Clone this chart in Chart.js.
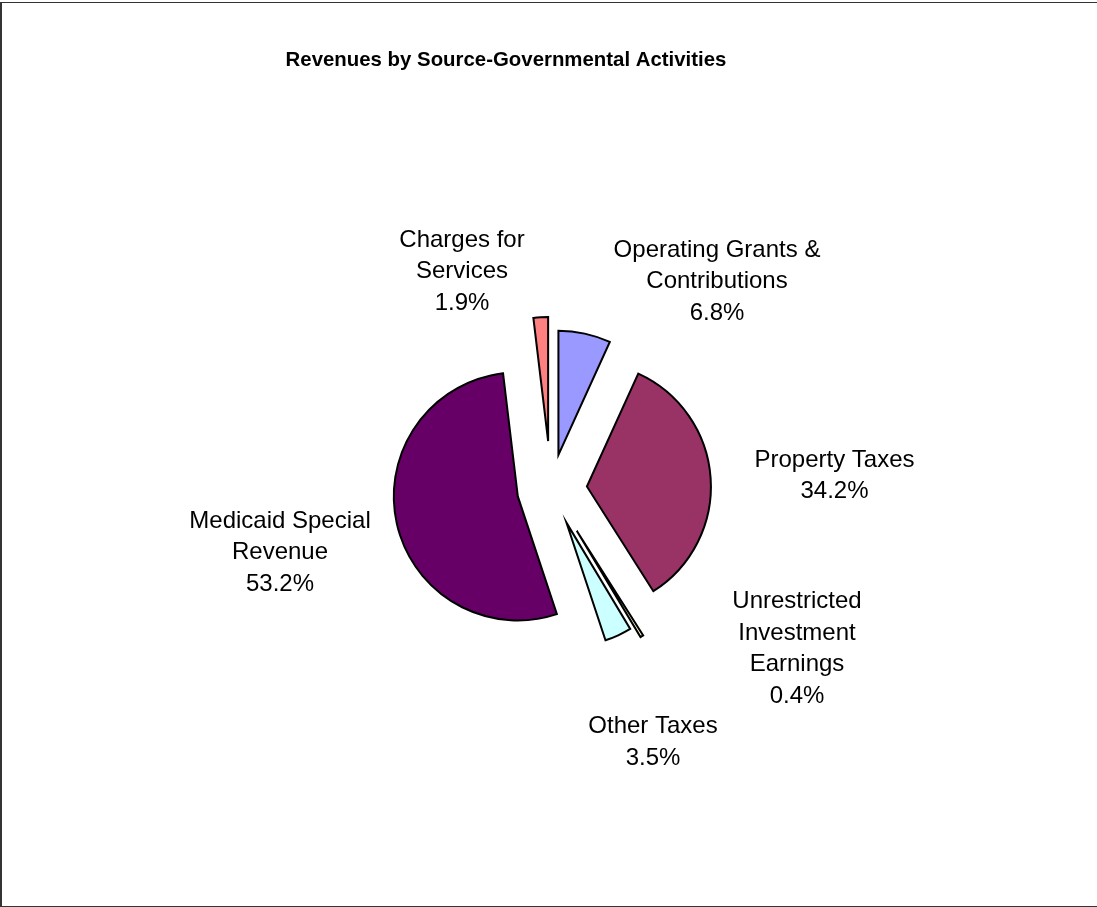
<!DOCTYPE html>
<html>
<head>
<meta charset="utf-8">
<script src="https://cdn.jsdelivr.net/npm/chart.js@4/dist/chart.umd.min.js"></script>
<style>
html,body{margin:0;padding:0;background:#fff;}
#wrap{position:relative;width:1097px;height:907px;}
canvas{display:block;}
</style>
</head>
<body>
<div id="wrap"><canvas id="c" width="1097" height="907"></canvas></div>
<script>
// ---- data ----
const chartTitle = 'Revenues by Source-Governmental Activities';
const categories = [
  ['Operating Grants &', 'Contributions'],
  ['Property Taxes'],
  ['Unrestricted', 'Investment', 'Earnings'],
  ['Other Taxes'],
  ['Medicaid Special', 'Revenue'],
  ['Charges for', 'Services']
];
const percentValues = [6.8, 34.2, 0.4, 3.5, 53.2, 1.9];
const sliceColors = ['#9999FF', '#993366', '#FFFFCC', '#CCFFFF', '#660066', '#FF8080'];

// ---- layout / style (not data) ----
const PIE_RADIUS = 124;
const explodePx = [35, 36, 49, 37, 34, 48];
const labelPlacement = [[166, -232.5], [283.5, -22.3], [246, 119.3], [102, 244.3], [-271, 38.7], [-89, -242.3]];
const LABEL_FONT = '24px "Liberation Sans", Arial, sans-serif';
const LABEL_LH = 31.5;

const framePlugin = {
  id: 'frame',
  beforeDraw(chart) {
    const ctx = chart.ctx;
    ctx.save();
    ctx.fillStyle = '#ffffff';
    ctx.fillRect(0, 0, chart.width, chart.height);
    ctx.fillStyle = '#333333';
    ctx.fillRect(0, 2, 2, chart.height - 2);
    ctx.fillRect(0, 2, chart.width, 1);
    ctx.fillRect(0, chart.height - 1, chart.width, 1);
    ctx.restore();
  }
};

// explode each slice outward along its own mid-angle (keeps angles and radius intact)
const explodePlugin = {
  id: 'explode',
  afterDatasetUpdate(chart, args) {
    const area = chart.chartArea;
    const cx = (area.left + area.right) / 2;
    const cy = (area.top + area.bottom) / 2;
    args.meta.data.forEach((el, i) => {
      const mid = (el.startAngle + el.endAngle) / 2;
      const d = explodePx[i] || 0;
      el.x = cx + Math.cos(mid) * d;
      el.y = cy + Math.sin(mid) * d;
    });
  }
};

const textPlugin = {
  id: 'texts',
  afterDraw(chart) {
    const ctx = chart.ctx;
    const area = chart.chartArea;
    const cx = (area.left + area.right) / 2;
    const cy = (area.top + area.bottom) / 2;
    ctx.save();
    ctx.fillStyle = '#000';
    ctx.textAlign = 'center';
    ctx.textBaseline = 'alphabetic';
    ctx.font = 'bold 20.4px "Liberation Sans", Arial, sans-serif';
    ctx.fillText(chartTitle, 506, 66);
    ctx.font = LABEL_FONT;
    categories.forEach((lines, i) => {
      const all = lines.concat([percentValues[i].toFixed(1) + '%']);
      const [dx, dy] = labelPlacement[i];
      all.forEach((t, k) => {
        ctx.fillText(t, cx + dx, cy + dy + k * LABEL_LH);
      });
    });
    ctx.restore();
  }
};

new Chart(document.getElementById('c'), {
  type: 'pie',
  data: {
    labels: categories.map(l => l.join(' ')),
    datasets: [{
      data: percentValues,
      backgroundColor: sliceColors,
      borderColor: '#000000',
      borderWidth: 2,
      borderJoinStyle: 'miter',
      hoverOffset: 0
    }]
  },
  options: {
    responsive: false,
    animation: false,
    events: [],
    radius: PIE_RADIUS,
    layout: { padding: { left: 305, right: 300, top: 171, bottom: 100 } },
    plugins: {
      legend: { display: false },
      title: { display: false },
      tooltip: { enabled: false }
    }
  },
  plugins: [framePlugin, explodePlugin, textPlugin]
});
</script>
</body>
</html>
